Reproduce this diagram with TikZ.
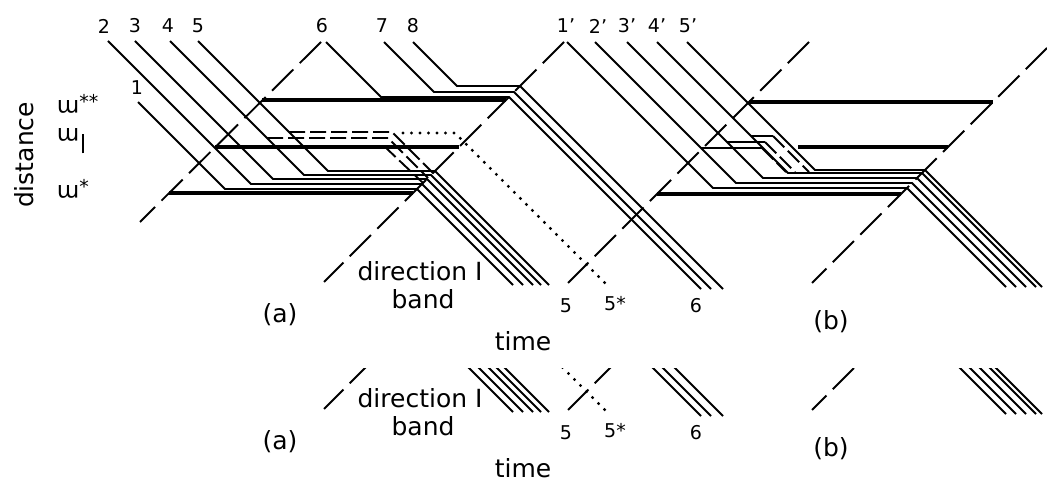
\documentclass[tikz,border=0pt]{standalone}
\usepackage{fontspec}
\setsansfont{DejaVu Sans}
\begin{document}
\begin{tikzpicture}[x=1pt, y=-1pt, line width=1.9pt,
  every node/.style={font=\sffamily\fontsize{19}{22}\selectfont, inner sep=0pt},
  big/.style={font=\sffamily\fontsize{25}{30}\selectfont},
  tick/.style={font=\sffamily\fontsize{23}{25}\selectfont, anchor=west},
  bandline/.style={dash pattern=on 30pt off 9pt},
  siding/.style={line width=3.4pt},
  alt/.style={dash pattern=on 16pt off 5pt},
  late/.style={dash pattern=on 0pt off 8.5pt, line cap=round, line width=3.4pt}]
\useasboundingbox (0,0) rectangle (1047,484);
\foreach \s/\ya/\yb in {0/0/362, 127/368/484}{
\begin{scope}
\clip (0,\ya) rectangle (1047,\yb);
\begin{scope}[yshift=-\s pt]
\node[big, rotate=90] (dist) at (24,155) {distance};
\node[tick] (mss) at (56,104) {\rotatebox[origin=c]{180}{m}\raisebox{5pt}{\fontsize{19}{19}\selectfont**}};
\node[tick] (mbar) at (56,141) {\rotatebox[origin=c]{180}{m}\hspace{3pt}\rule[-12pt]{2pt}{19pt}};
\node[tick] (ms) at (56,189) {\rotatebox[origin=c]{180}{m}\raisebox{5pt}{\fontsize{19}{19}\selectfont*}};
\foreach \t/\x in {2/104, 3/135, 4/168, 5/198, 6/322, 7/382, 8/413, 1'/566, 2'/598, 3'/627, 4'/657, 5'/688}
  \node at (\x,26) {\t};
\node at (137,88) {1};
\node[big] (dir) at (420,271) {direction I};
\node[big] (bnd) at (423,299) {band};
\node[big] (pa) at (280,315) {(a)};
\node[big] (pb) at (831,322) {(b)};
\node[big] (tm) at (523,341) {time};
\node (n5) at (566,306) {5};
\node (n5s) at (615,304) {5*};
\node (n6) at (696,306) {6};
% band boundaries
\draw[bandline] (321,42) -- (140,222);
\draw[bandline] (564,42) -- (324,282);
\draw[bandline] (809,42) -- (568,283);
\draw[bandline] (1047,48) -- (812,283);
% sidings
\draw[siding] (262,100) -- (506,100);
\draw[siding] (215,147) -- (459,147);
\draw[siding] (169,193) -- (413,193);
\draw[siding] (749,102) -- (993,102);
\draw[siding] (798,147) -- (948,147);
\draw[siding] (657,194) -- (901,194);
% direction I trajectories, (a)
\draw (138,102) -- (225,189) -- (417,189) -- (513,285);
\draw (108,41) -- (251,184) -- (422,184) -- (523,285);
\draw (135,41) -- (273,179) -- (427,179) -- (533,285);
\draw (170,41) -- (304,175) -- (431,175) -- (541,285);
\draw (198,41) -- (328,171) -- (435,171) -- (549,285);
\draw (326,42) -- (381,97) -- (509,97) -- (701,289);
\draw (384,42) -- (434,92) -- (514,92) -- (711,289);
\draw (413,42) -- (457,86) -- (520,86) -- (723,289);
\draw[alt] (289,132) -- (392,132) -- (433,173);
\draw[alt] (267,138) -- (388,138) -- (428,178);
\draw[alt] (384,146) -- (423,183);
\draw[late] (403,133) -- (455,133) -- (605,283);
% direction I trajectories, (b)
\draw (567,42) -- (713,188) -- (907,188) -- (1006,287);
\draw (595,42) -- (736,183) -- (912,183) -- (1016,287);
\draw (627,42) -- (763,178) -- (917,178) -- (1026,287);
\draw (657,42) -- (788,173) -- (922,173) -- (1036,287);
\draw (687,42) -- (815,170) -- (925,170) -- (1042,287);
\draw (701,148) -- (762,148);
\draw (727,142) -- (765,142);
\draw (751,136) -- (773,136);
\draw[alt] (762,148) -- (786,172);
\draw[alt] (765,142) -- (795,172);
\draw[alt] (773,136) -- (809,172);
\end{scope}
\end{scope}
}
\end{tikzpicture}
\end{document}
